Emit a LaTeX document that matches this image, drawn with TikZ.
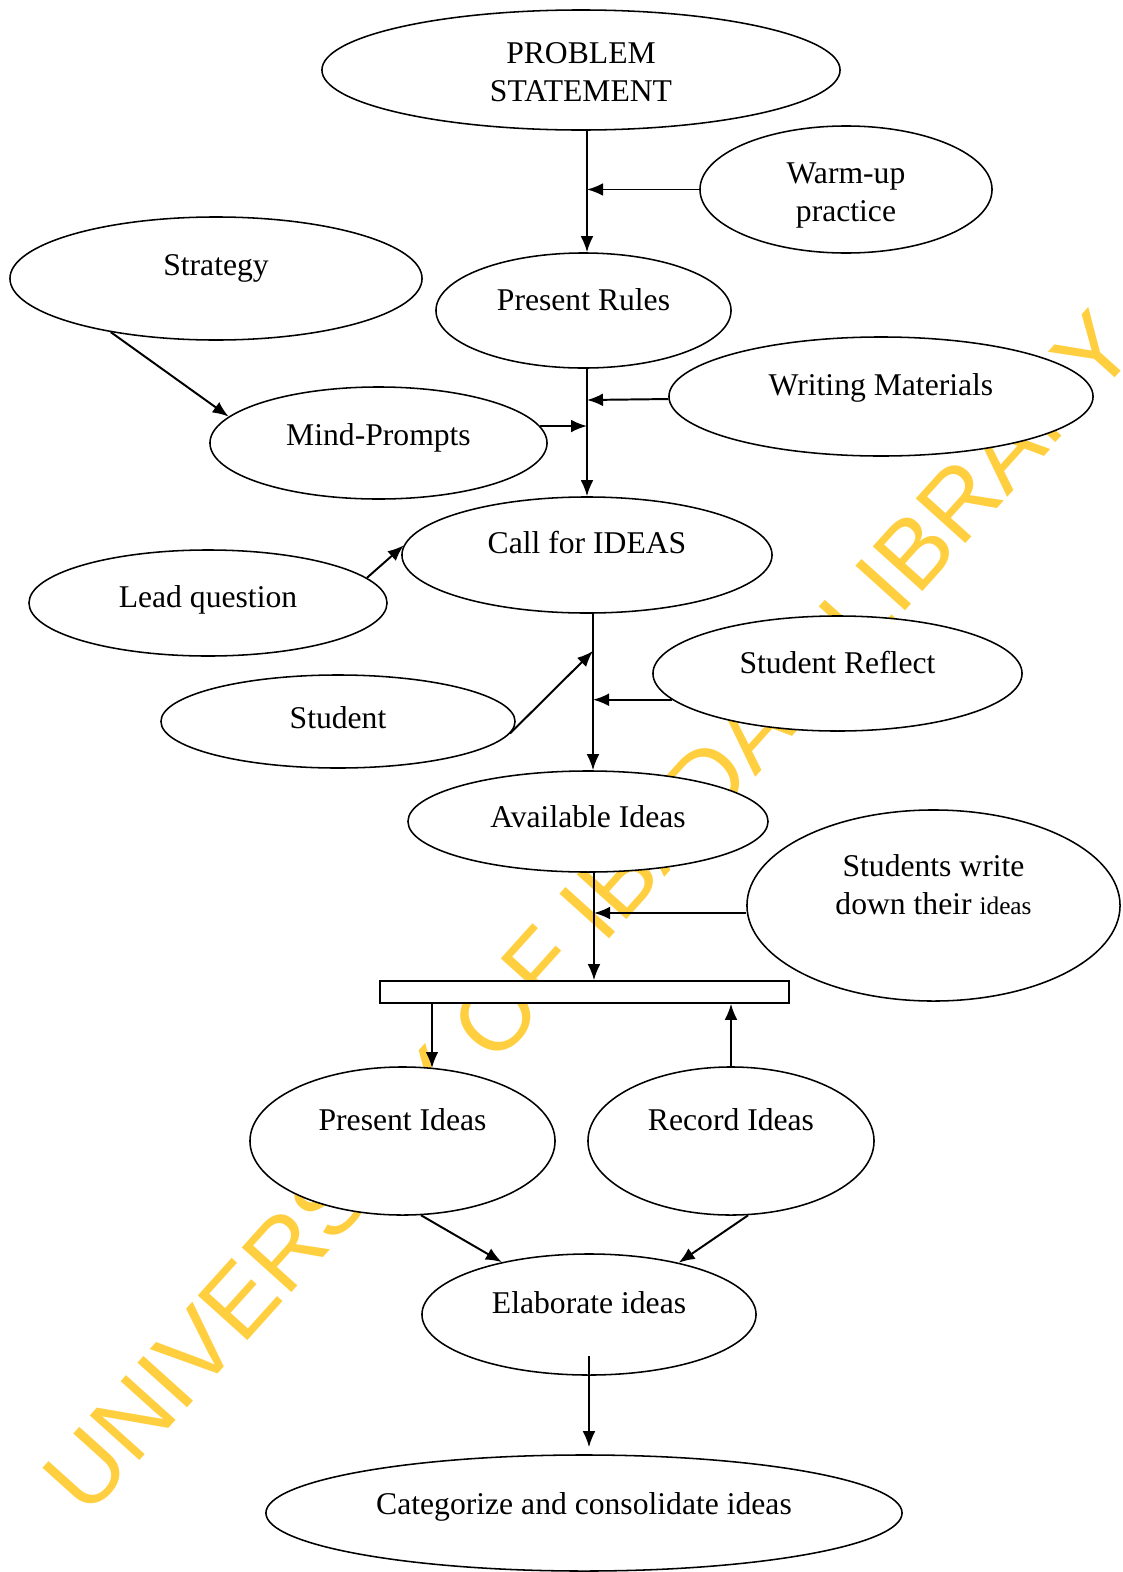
\documentclass[tikz,border=0pt]{standalone}
\usepackage{fontspec}
\setmainfont{Liberation Serif}
\newfontfamily\wmfont{Liberation Sans}
\usetikzlibrary{arrows.meta,shapes.geometric}
\definecolor{wmyellow}{RGB}{255,207,63}

\begin{document}
\begin{tikzpicture}[x=0.025cm, y=-0.025cm,
    bub/.style={ellipse, draw, fill=white, line width=1.1pt, inner sep=0pt, font=\fontsize{22.5}{27}\selectfont},
    lift/.style={text height=0.55cm, text depth=#1},
    bar/.style={rectangle, draw, fill=white, line width=1.1pt, inner sep=0pt},
    arr/.style={-{Latex[length=4mm,width=3.2mm]}, line width=1.4pt},
    wm/.style={font=\wmfont\fontsize{69}{69}\selectfont, text=wmyellow}
  ]
  \useasboundingbox (0,0) rectangle (1123,1572);
  % watermark
  \node[wm, rotate=48] (wmark) at (589,912) {UNIVERSITY OF IBADAN LIBRARY};

  \node[bub, align=center, text height=1.55cm, text depth=0cm, minimum width=12.95cm, minimum height=3cm] (problem) at (581,70) {PROBLEM\\STATEMENT};
  \node[bub, align=center, text height=1.6cm, text depth=0cm, minimum width=7.3cm, minimum height=3.175cm] (warm) at (846,189.5) {Warm-up\\practice};
  \node[bub, lift=0.7cm, minimum width=10.3cm, minimum height=3.075cm] (strategy) at (216,278.5) {Strategy};
  \node[bub, lift=0.55cm, minimum width=7.375cm, minimum height=2.875cm] (rules) at (583.5,310.5) {Present Rules};
  \node[bub, lift=0.6cm, minimum width=10.6cm, minimum height=2.975cm] (writing) at (881,396.5) {Writing Materials};
  \node[bub, lift=0.45cm, minimum width=8.425cm, minimum height=2.8cm] (mind) at (378.5,443) {Mind-Prompts};
  \node[bub, lift=0.65cm, minimum width=9.25cm, minimum height=2.9cm] (ideas) at (587,555) {Call for IDEAS};
  \node[bub, lift=0.35cm, minimum width=8.95cm, minimum height=2.65cm] (lead) at (208,603) {Lead question};
  \node[bub, lift=0.55cm, minimum width=9.225cm, minimum height=2.875cm] (reflect) at (837.5,673.5) {Student Reflect};
  \node[bub, lift=0.2cm, minimum width=8.85cm, minimum height=2.325cm] (student) at (338,721.5) {Student};
  \node[bub, lift=0.25cm, minimum width=9cm, minimum height=2.525cm] (avail) at (588,821.5) {Available Ideas};
  \node[bub, align=center, lift=0.1cm, minimum width=9.325cm, minimum height=4.775cm] (write) at (933.5,905.5)
    {Students write\\down their {\fontsize{18}{27}\selectfont ideas}};
  \node[bar, minimum width=10.225cm, minimum height=0.55cm] (store) at (584.5,992) {};
  \node[bub, lift=1.1cm, minimum width=7.625cm, minimum height=3.7cm] (pres) at (402.5,1141) {Present Ideas};
  \node[bub, lift=1.1cm, minimum width=7.15cm, minimum height=3.7cm] (record) at (731,1141) {Record Ideas};
  \node[bub, lift=0.6cm, minimum width=8.35cm, minimum height=3.025cm] (elab) at (589,1314.5) {Elaborate ideas};
  \node[bub, lift=0.5cm, minimum width=15.9cm, minimum height=2.9cm] (cat) at (584,1513) {Categorize and consolidate ideas};

  % joints on the main line
  \coordinate (j1) at (587,189.5);
  \coordinate (j2) at (587,400);
  \coordinate (j3) at (587,425);
  \coordinate (j4) at (593,651);
  \coordinate (j6) at (594,913);
  \coordinate (k1) at (432,1068);

  \draw[arr] (problem.south -| j1) -- (rules.north -| j1);
  \draw[arr] (warm) -- (j1);
  \draw[arr] (rules.south -| j1) -- (ideas.north -| j1);
  \draw[arr] (writing) -- (j2);
  \draw[arr] (mind.6) -- (mind.6 -| j3);
  \draw[arr] (strategy.207) -- (mind.170);
  \draw[arr] (lead.9) -- (ideas.177);
  \draw[arr] (ideas.south -| j4) -- (avail.north -| j4);
  \draw[arr] (student.-4) -- (j4);
  \draw[arr] (reflect.189) -- (reflect.189 -| j4);
  \draw[arr] (avail.south -| j6) -- (store.north -| j6);
  \draw[arr] (write.west |- j6) -- (j6);
  \draw[arr] (store.south -| k1) -- (k1);
  \draw[arr] (record.north) -- (store.south -| record.north);
  \draw[arr] (pres.-76) -- (elab.149);
  \draw[arr] (record.-77) -- (elab.30);
  \draw[arr] ([yshift=0.5cm]elab.south) -- ([yshift=0.175cm]cat.north -| elab.south);
\end{tikzpicture}
\end{document}
